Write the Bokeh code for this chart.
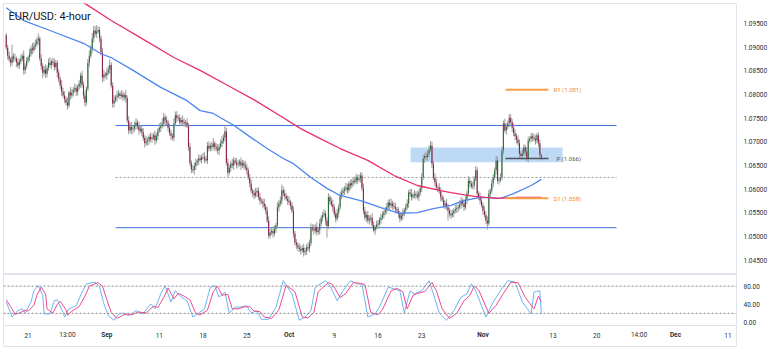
import numpy as np
from bokeh.plotting import figure
from bokeh.models import Range1d, FixedTicker, Label, PrintfTickFormatter, Span
from bokeh.layouts import column
from bokeh.core.properties import value
from bokeh.embed import file_html
from bokeh.resources import INLINE

# ---------------- data (EUR/USD 4-hour, prices in pips above 1.0000) ----------------
first_open = 925
closes = [
    899, 882, 874, 867, 880, 876, 876, 868, 861, 870,
    875, 882, 851, 860, 871, 878, 886, 897, 894, 903,
    906, 914, 918, 876, 860, 846, 852, 844, 856, 867,
    862, 870, 867, 858, 867, 846, 832, 819, 806, 798,
    790, 783, 777, 804, 798, 804, 810, 813, 806, 816,
    823, 840, 820, 798, 783, 812, 867, 882, 897, 918,
    935, 928, 933, 936, 918, 889, 836, 842, 840, 846,
    852, 862, 819, 781, 788, 794, 798, 802, 797, 800,
    794, 799, 792, 745, 724, 732, 726, 728, 735, 741,
    733, 724, 728, 720, 708, 697, 700, 703, 711, 706,
    709, 714, 703, 712, 724, 730, 734, 739, 752, 745,
    741, 730, 718, 713, 709, 739, 756, 750, 751, 741,
    746, 742, 739, 741, 734, 690, 655, 642, 640, 649,
    656, 660, 665, 662, 668, 667, 664, 661, 692, 686,
    692, 689, 697, 690, 686, 682, 690, 697, 702, 709,
    722, 656, 635, 645, 654, 650, 661, 657, 652, 654,
    658, 650, 655, 650, 646, 640, 625, 612, 597, 592,
    587, 593, 597, 584, 576, 574, 570, 563, 555, 534,
    502, 509, 512, 507, 516, 524, 562, 570, 576, 598,
    591, 586, 580, 576, 572, 566, 555, 507, 488, 482,
    477, 474, 471, 476, 467, 470, 478, 475, 486, 519,
    516, 513, 520, 510, 513, 528, 540, 546, 549, 534,
    522, 583, 575, 568, 562, 548, 538, 550, 562, 587,
    592, 597, 601, 604, 598, 612, 608, 614, 618, 616,
    625, 620, 623, 629, 602, 555, 540, 546, 534, 538,
    540, 524, 513, 520, 525, 528, 535, 540, 546, 551,
    556, 562, 572, 566, 570, 565, 562, 558, 555, 548,
    538, 544, 549, 556, 562, 570, 593, 590, 584, 587,
    590, 587, 584, 593, 602, 625, 665, 670, 668, 675,
    684, 692, 654, 625, 615, 604, 604, 596, 583, 578,
    566, 570, 562, 555, 548, 545, 550, 555, 558, 560,
    562, 568, 576, 570, 562, 578, 591, 618, 612, 606,
    608, 622, 640, 591, 584, 576, 566, 555, 546, 534,
    528, 591, 597, 612, 625, 640, 661, 618, 620, 625,
    682, 739, 724, 732, 739, 751, 742, 730, 718, 712,
    705, 697, 675, 670, 675, 688, 680, 665, 703, 706,
    712, 709, 706, 703, 714, 697, 672, 666.7,
]
up_wick = [
    5, 6, 9, 4, 25, 7, 10, 4, 8, 6,
    9, 5, 11, 6, 8, 4, 10, 6, 12, 7,
    10, 7, 11, 5, 9, 6, 8, 12, 5, 9,
    12, 4, 8, 9, 6, 5, 7, 6, 11, 8,
    9, 6, 11, 4, 12, 8, 6, 10, 7, 5,
    8, 6, 10, 7, 9, 5, 8, 11, 7, 12,
    10, 9, 13, 8, 6, 7, 9, 10, 6, 11,
    8, 12, 6, 7, 10, 5, 9, 8, 4, 9,
    7, 5, 11, 6, 9, 8, 10, 6, 7, 9,
    6, 10, 5, 8, 9, 6, 12, 7, 5, 9,
    8, 6, 10, 7, 5, 9, 8, 11, 9, 6,
    9, 6, 8, 7, 5, 11, 8, 9, 6, 7,
    6, 10, 8, 5, 9, 6, 8, 6, 9, 7,
    8, 5, 9, 7, 6, 9, 11, 6, 8, 9,
    6, 8, 11, 5, 7, 9, 6, 8, 11, 7,
    14, 8, 9, 6, 6, 10, 7, 5, 9, 8,
    5, 9, 7, 6, 10, 8, 6, 7, 9, 5,
    7, 10, 6, 8, 9, 5, 7, 10, 6, 8,
    9, 7, 6, 10, 8, 5, 11, 7, 9, 12,
    8, 9, 6, 7, 10, 6, 8, 9, 5, 7,
    6, 9, 8, 5, 9, 7, 6, 10, 8, 9,
    7, 10, 6, 11, 8, 9, 5, 7, 9, 6,
    7, 9, 5, 8, 10, 6, 7, 9, 6, 8,
    9, 7, 6, 10, 8, 5, 9, 7, 6, 9,
    8, 5, 9, 7, 6, 10, 8, 6, 9, 7,
    6, 10, 8, 5, 9, 7, 6, 9, 8, 5,
    7, 9, 6, 8, 10, 6, 8, 9, 5, 7,
    6, 8, 10, 5, 7, 9, 6, 8, 11, 6,
    8, 6, 9, 7, 5, 9, 8, 6, 10, 7,
    9, 10, 8, 6, 9, 7, 5, 9, 8, 6,
    7, 6, 10, 8, 6, 9, 7, 5, 9, 8,
    6, 9, 8, 5, 9, 7, 6, 10, 8, 6,
    8, 6, 9, 7, 5, 9, 8, 6, 9, 7,
    9, 8, 5, 9, 7, 6, 9, 8, 6, 9,
    8, 6, 10, 7, 6, 8, 7, 6, 9, 8,
    6, 9, 8, 5, 9, 7, 6, 9, 8, 6,
    7, 6, 9, 8, 5, 6, 8, 5,
]
down_wick = [
    6, 8, 5, 9, 6, 8, 5, 10, 6, 7,
    6, 5, 9, 8, 6, 5, 8, 6, 9, 5,
    8, 6, 9, 5, 8, 11, 6, 9, 8, 6,
    5, 9, 6, 8, 5, 10, 6, 8, 9, 6,
    8, 6, 9, 5, 10, 6, 8, 6, 9, 8,
    6, 9, 5, 8, 9, 6, 5, 8, 6, 9,
    8, 6, 9, 5, 8, 6, 10, 8, 6, 9,
    5, 8, 6, 9, 8, 5, 9, 6, 8, 5,
    8, 6, 9, 5, 8, 6, 10, 8, 6, 9,
    6, 9, 5, 8, 6, 9, 5, 8, 9, 6,
    8, 5, 9, 6, 8, 5, 9, 6, 8, 10,
    6, 8, 5, 9, 6, 8, 5, 9, 6, 8,
    5, 9, 6, 8, 5, 9, 6, 8, 5, 9,
    8, 6, 9, 5, 8, 6, 9, 5, 8, 6,
    6, 8, 5, 9, 6, 8, 10, 5, 8, 6,
    8, 6, 9, 5, 8, 6, 9, 5, 8, 6,
    6, 9, 5, 8, 6, 9, 5, 8, 6, 9,
    8, 5, 9, 6, 8, 5, 9, 6, 8, 5,
    6, 6, 5, 9, 6, 8, 5, 9, 6, 8,
    6, 8, 5, 9, 6, 8, 5, 9, 6, 8,
    8, 6, 9, 5, 9, 6, 9, 5, 8, 6,
    5, 9, 6, 8, 5, 9, 6, 8, 5, 9,
    24, 6, 8, 5, 9, 6, 8, 5, 9, 6,
    8, 5, 9, 6, 8, 5, 9, 6, 8, 5,
    6, 8, 5, 9, 6, 8, 5, 9, 6, 8,
    8, 6, 4, 9, 5, 8, 6, 9, 5, 8,
    6, 8, 5, 9, 6, 8, 5, 9, 6, 8,
    8, 5, 9, 6, 8, 5, 9, 6, 8, 5,
    6, 8, 5, 9, 6, 8, 5, 9, 6, 8,
    8, 5, 9, 6, 8, 5, 9, 6, 8, 5,
    6, 8, 5, 21, 6, 8, 5, 9, 6, 8,
    8, 5, 9, 6, 8, 5, 9, 6, 8, 5,
    6, 8, 5, 9, 6, 8, 5, 9, 6, 8,
    13, 5, 9, 6, 8, 5, 9, 6, 8, 5,
    6, 8, 5, 9, 6, 8, 5, 9, 6, 8,
    8, 5, 9, 6, 8, 5, 9, 6, 8, 5,
    6, 8, 5, 9, 6, 8, 5, 6,
]

# moving averages (bar index, pips)
ma_blue_idx = [0, 12, 30, 53, 65, 72, 87, 106, 124, 133, 142, 147, 156, 168, 179, 190, 197,
               209, 220, 229, 243, 259, 270, 282, 293, 305, 314, 325, 339, 348, 360, 367]
ma_blue_val = [983, 956, 935, 908, 886, 878, 851, 815, 787, 766, 760, 751, 735, 709, 686, 665, 654,
               625, 602, 587, 576, 559, 549, 551, 559, 566, 576, 583, 581, 591, 608, 621]
ma_red_idx = [0, 56, 72, 92, 115, 133, 152, 171, 190, 202, 214, 229, 248, 266, 282, 298, 305,
              321, 337, 351, 367]
ma_red_val = [1090, 988, 956, 920, 878, 851, 819, 787, 751, 728, 709, 686, 661, 629, 608, 597, 593,
              585, 581, 583, 583]

# stochastic oscillator
stoch_k_idx = [0, 3, 4, 8, 11, 13, 17, 19, 22, 25, 26, 30, 33, 35, 39, 40, 43, 48, 52, 55,
               61, 64, 67, 70, 74, 77, 80, 84, 89, 94, 99, 102, 106, 109, 113, 116, 120, 124, 128, 131,
               136, 140, 143, 146, 150, 153, 157, 161, 165, 168, 172, 175, 180, 185, 190, 196, 201, 205, 209, 212,
               219, 222, 227, 231, 236, 241, 244, 248, 253, 256, 262, 266, 270, 273, 277, 280, 285, 290, 293, 297,
               302, 307, 312, 316, 319, 322, 329, 334, 339, 344, 349, 354, 360, 362, 366, 367]
stoch_k_val = [45, 21, 12, 26, 30, 21, 45, 70, 81, 60, 19, 19, 48, 50, 22, 12, 30, 37, 67, 85,
               89, 78, 41, 15, 5, 18, 21, 15, 26, 19, 41, 30, 63, 81, 45, 70, 56, 48, 12, 19,
               30, 78, 81, 56, 67, 21, 34, 34, 37, 21, 26, 7, 7, 34, 92, 63, 5, 12, 26, 78,
               92, 81, 48, 70, 92, 85, 85, 12, 19, 34, 78, 74, 70, 21, 70, 63, 70, 92, 63, 21,
               5, 26, 56, 63, 85, 70, 12, 45, 70, 92, 89, 45, 19, 67, 70, 19]
stoch_d_idx = [0, 3, 6, 10, 13, 15, 19, 21, 24, 27, 28, 32, 35, 37, 41, 42, 45, 50, 54, 57,
               63, 66, 69, 72, 76, 79, 82, 86, 91, 96, 101, 104, 108, 111, 115, 118, 122, 126, 130, 133,
               138, 142, 145, 148, 152, 155, 159, 163, 167, 170, 174, 177, 182, 187, 192, 198, 203, 207, 211, 214,
               221, 224, 229, 233, 238, 243, 246, 250, 255, 258, 264, 268, 272, 275, 279, 282, 287, 292, 295, 299,
               304, 309, 314, 318, 321, 324, 331, 336, 341, 346, 351, 356, 362, 365, 367]
stoch_d_val = [50, 35, 18, 22, 27, 25, 38, 60, 78, 62, 30, 20, 40, 47, 28, 16, 25, 35, 58, 80,
               88, 80, 50, 22, 9, 14, 19, 17, 23, 21, 36, 33, 55, 76, 52, 64, 58, 50, 20, 17,
               27, 68, 80, 60, 62, 30, 30, 34, 35, 25, 24, 12, 9, 28, 82, 68, 12, 10, 22, 68,
               88, 83, 55, 64, 88, 86, 84, 22, 17, 28, 70, 75, 68, 30, 60, 64, 68, 88, 70, 30,
               9, 20, 48, 60, 80, 72, 20, 38, 64, 88, 88, 55, 30, 58, 45]

# levels
resistance = 1.07345
support = 1.0519
mid_level = 1.0625
zone_bottom, zone_top = 1.0657, 1.0688
zone_start, zone_end = 277.3, 381.5
level_start, level_end = 75, 418.6
pivot_start, pivot_end = 342.4, 371.9
pivot_r1, pivot_p, pivot_s1 = 1.081, 1.0665, 1.0581
pivot_labels = ["R1 (1.081)", "P (1.066)", "S1 (1.058)"]
last_price = 1.06667

price_ticks = [1.045, 1.05, 1.055, 1.06, 1.065, 1.07, 1.075, 1.08, 1.085, 1.09, 1.095]
osc_ticks = [0, 40, 80]
date_tick_pos = [15, 42, 69, 105, 135, 165, 194, 225, 255, 285, 327, 375, 405, 434, 459, 495]
date_tick_labels = ["21", "13:00", "Sep", "11", "18", "25", "Oct", "9", "16", "23", "Nov",
                    "13", "20", "14:00", "Dec", "11"]
month_names = {"Sep", "Oct", "Nov", "Dec"}

# ---------------- derived candles ----------------
n = min(len(closes), len(up_wick), len(down_wick))
idx = np.arange(n)
c = 1 + np.array(closes[:n]) / 1e4
o = np.concatenate([[1 + first_open / 1e4], c[:-1]])
top = np.maximum(o, c)
bot = np.minimum(o, c)
bot = np.where(top - bot < 0.0001, top - 0.0001, bot)
hi = top + np.array(up_wick[:n]) / 1e4
lo = bot - np.array(down_wick[:n]) / 1e4
body_colors = ["#2b6b3a" if cc >= oo else "#8c1f4b" for cc, oo in zip(c, o)]

GRID = "#e0e3eb"
TXT = "#2a2e39"
FS = "6.5px"
FONT = "Roboto"

x_range = Range1d(-1.872, 500.87)

p = figure(width=770, height=274, output_backend="svg", toolbar_location=None,
           x_range=x_range, y_range=Range1d(1.042025, 1.099198),
           min_border_left=3, min_border_right=34, min_border_top=3, min_border_bottom=0,
           x_axis_location=None, y_axis_location="right")
p.grid.visible = False
p.outline_line_color = GRID
p.background_fill_color = "white"

# zone
p.quad(left=[zone_start], right=[zone_end], bottom=[zone_bottom], top=[zone_top],
       fill_color="#b7d5f5", fill_alpha=0.9, line_color=None)
# horizontal levels
p.segment(x0=[level_start, level_start], x1=[level_end, level_end],
          y0=[resistance, support], y1=[resistance, support], line_color="#3d6fdc", line_width=1)
p.segment(x0=[level_start], x1=[level_end], y0=[mid_level], y1=[mid_level],
          line_color="#9a9a9a", line_width=1, line_dash="2 2")

# candles
p.segment(x0=idx, x1=idx, y0=hi, y1=lo, line_color="#9b9b9b", line_width=1)
p.vbar(x=idx, width=0.75, top=top, bottom=bot, fill_color=body_colors, line_color=None)

# moving averages
p.line(ma_blue_idx, 1 + np.array(ma_blue_val) / 1e4, line_color="#4a86f0", line_width=1.3)
p.line(ma_red_idx, 1 + np.array(ma_red_val) / 1e4, line_color="#e9306a", line_width=1.3)

# pivots
p.segment(x0=[pivot_start, pivot_start], x1=[pivot_end, pivot_end],
          y0=[pivot_r1, pivot_s1], y1=[pivot_r1, pivot_s1], line_color="#f7a04a", line_width=2)
p.segment(x0=[pivot_start], x1=[pivot_end], y0=[pivot_p], y1=[pivot_p],
          line_color="#50535e", line_width=1.5)
for yv, txt, col, dx in [(pivot_r1, pivot_labels[0], "#f08a24", 3.5),
                         (pivot_p, pivot_labels[1], "#50535e", 5.5),
                         (pivot_s1, pivot_labels[2], "#f08a24", 3.5)]:
    p.add_layout(Label(x=pivot_end + dx, y=yv, text=txt, text_font_size="6px",
                       text_color=col, text_baseline="middle", text_font=FONT))

# title
p.add_layout(Label(x=5, y=258, x_units="screen", y_units="screen", text="EUR/USD: 4-hour",
                   text_font_size="11px", text_color="#131722", text_baseline="middle",
                   text_font=FONT))
# last price tag
p.add_layout(Label(x=734, y=last_price, x_units="screen", text="1.06667", text_font_size="6px",
                   text_color="white", text_baseline="middle", background_fill_color="#f0246e",
                   padding=2, text_font=FONT))

ya = p.yaxis[0]
ya.ticker = FixedTicker(ticks=price_ticks)
ya.formatter = PrintfTickFormatter(format="%.5f")
ya.major_tick_line_color = None
ya.minor_tick_line_color = None
ya.major_tick_out = 0
ya.major_tick_in = 0
ya.axis_line_color = GRID
ya.major_label_standoff = 7
ya.major_label_text_font_size = FS
ya.major_label_text_color = TXT
ya.major_label_text_font = FONT

# ---------------- oscillator + date row ----------------
# frame covers the oscillator (274..325 px) and the date row below it (325..346 px)
OSC_LO, OSC_HI = -52.9, 105.7
OSC_FLOOR = -6.6        # bottom of the oscillator pane (separator to the date row)
DATE_ROW = -28.6        # vertical centre of the date labels
q = figure(width=770, height=75, output_backend="svg", toolbar_location=None,
           x_range=x_range, y_range=Range1d(OSC_LO, OSC_HI),
           min_border_left=3, min_border_right=34, min_border_top=0, min_border_bottom=3,
           x_axis_location=None, y_axis_location="right")
q.grid.visible = False
q.outline_line_color = GRID
q.add_layout(Span(location=OSC_FLOOR, dimension="width", line_color=GRID, line_width=1))
for lvl in (80, 20):
    q.add_layout(Span(location=lvl, dimension="width", line_color="#8a8a8a",
                      line_dash="2 2", line_width=1))
q.line(stoch_k_idx, stoch_k_val, line_color="#6cb4f2", line_width=1)
q.line(stoch_d_idx, stoch_d_val, line_color="#ec4b8c", line_width=1)

day_pos = [x for x, l in zip(date_tick_pos, date_tick_labels) if l not in month_names]
day_lab = [l for l in date_tick_labels if l not in month_names]
mon_pos = [x for x, l in zip(date_tick_pos, date_tick_labels) if l in month_names]
mon_lab = [l for l in date_tick_labels if l in month_names]
q.text(x=day_pos, y=[DATE_ROW] * len(day_pos), text=day_lab, text_font=value(FONT),
       text_font_size=FS, text_color=TXT, text_align="center", text_baseline="middle")
q.text(x=mon_pos, y=[DATE_ROW] * len(mon_pos), text=mon_lab, text_font=value(FONT),
       text_font_size=FS, text_font_style="bold", text_color=TXT, text_align="center",
       text_baseline="middle")

qa = q.yaxis[0]
qa.ticker = FixedTicker(ticks=osc_ticks)
qa.formatter = PrintfTickFormatter(format="%.2f")
qa.major_tick_line_color = None
qa.minor_tick_line_color = None
qa.major_tick_out = 0
qa.major_tick_in = 0
qa.axis_line_color = GRID
qa.major_label_standoff = 7
qa.major_label_text_font_size = FS
qa.major_label_text_color = TXT
qa.major_label_text_font = FONT

layout = column(p, q)

open("out.html", "w").write(file_html(layout, INLINE))
